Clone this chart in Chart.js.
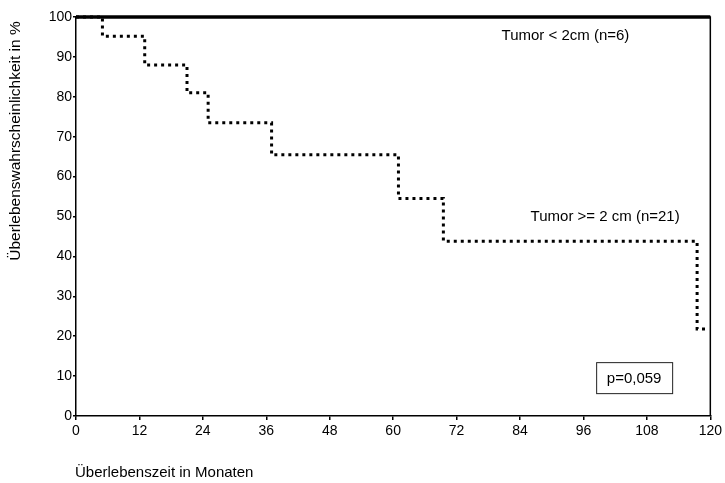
<!DOCTYPE html>
<html>
<head>
<meta charset="utf-8">
<script src="https://cdn.jsdelivr.net/npm/chart.js@4/dist/chart.umd.min.js"></script>
<style>
  html, body { margin: 0; padding: 0; background: #fff; }
  #wrap { width: 725px; height: 483px; }
</style>
</head>
<body>
<div id="wrap"><canvas id="myChart" width="725" height="483"></canvas></div>
<script>
// Kaplan-Meier Daten
var monateKlein = [0, 120];
var survivalKlein = [100, 100];

var monateGross = [0, 5, 13, 21, 25, 37, 61, 69.5, 117.5, 119];
var survivalGross = [100, 95.2, 88, 81, 73.5, 65.5, 54.5, 43.8, 21.8, 21.8];

var xTicks = [0, 12, 24, 36, 48, 60, 72, 84, 96, 108, 120];
var yTicks = [0, 10, 20, 30, 40, 50, 60, 70, 80, 90, 100];

var labelKlein = 'Tumor < 2cm (n=6)';
var labelGross = 'Tumor >= 2 cm (n=21)';
var pWert = 'p=0,059';
var xTitel = 'Überlebenszeit in Monaten';
var yTitel = 'Überlebenswahrscheinlichkeit in %';

function punkte(xs, ys) {
  var arr = [];
  for (var i = 0; i < xs.length; i++) {
    arr.push({ x: xs[i], y: ys[i] });
  }
  return arr;
}

var schrift = "'Liberation Sans', Arial, sans-serif";

var extras = {
  id: 'extras',
  afterDraw: function (chart) {
    var ctx = chart.ctx;
    var a = chart.chartArea;
    var xs = chart.scales.x;
    var ys = chart.scales.y;
    ctx.save();
    // rahmen oben / rechts
    ctx.strokeStyle = '#000';
    ctx.lineWidth = 1.5;
    ctx.beginPath();
    ctx.moveTo(a.left, a.top);
    ctx.lineTo(a.right, a.top);
    ctx.lineTo(a.right, a.bottom);
    ctx.stroke();

    ctx.fillStyle = '#000';
    ctx.font = '15px ' + schrift;
    ctx.textBaseline = 'middle';
    ctx.textAlign = 'left';
    ctx.fillText(labelKlein, xs.getPixelForValue(80.5), ys.getPixelForValue(95.2));
    ctx.fillText(labelGross, xs.getPixelForValue(86), ys.getPixelForValue(50));

    // p-Wert box
    var bx = xs.getPixelForValue(98.4), by = ys.getPixelForValue(13.5);
    var bw = 76, bh = 31;
    ctx.lineWidth = 1;
    ctx.strokeStyle = '#222';
    ctx.strokeRect(bx + 0.5, by + 0.5, bw, bh);
    ctx.textAlign = 'center';
    ctx.fillText(pWert, bx + bw / 2, by + bh / 2 + 1);

    // achsentitel
    ctx.textAlign = 'left';
    ctx.font = '15px ' + schrift;
    ctx.fillText(xTitel, 75, 473);

    ctx.translate(16, 141);
    ctx.rotate(-Math.PI / 2);
    ctx.textAlign = 'center';
    ctx.font = '15.5px ' + schrift;
    ctx.fillText(yTitel, 0, 0);
    ctx.restore();
  }
};

var ctx = document.getElementById('myChart').getContext('2d');
var myChart = new Chart(ctx, {
  type: 'line',
  data: {
    datasets: [
      {
        label: labelKlein,
        data: punkte(monateKlein, survivalKlein),
        borderColor: '#000',
        borderWidth: 3.5,
        pointRadius: 0,
        fill: false,
        clip: 6
      },
      {
        label: labelGross,
        data: punkte(monateGross, survivalGross),
        borderColor: '#000',
        borderWidth: 3,
        borderDash: [3, 4],
        borderCapStyle: 'butt',
        stepped: 'before',
        pointRadius: 0,
        fill: false,
        clip: 6
      }
    ]
  },
  plugins: [extras],
  options: {
    responsive: false,
    animation: false,
    layout: { padding: { left: 0, right: 11, top: 17, bottom: 0 } },
    plugins: {
      legend: { display: false },
      tooltip: { enabled: false }
    },
    scales: {
      x: {
        type: 'linear',
        min: 0,
        max: 120,
        afterBuildTicks: function (s) { s.ticks = xTicks.map(function (v) { return { value: v }; }); },
        afterFit: function (s) { s.height = 67; },
        border: { display: true, color: '#000', width: 1.5 },
        grid: { display: true, drawOnChartArea: false, drawTicks: true, tickLength: 4, color: '#000', lineWidth: 1.5 },
        ticks: { color: '#000', padding: 3, maxRotation: 0, font: { family: schrift, size: 14 } }
      },
      y: {
        type: 'linear',
        min: 0,
        max: 100,
        afterBuildTicks: function (s) { s.ticks = yTicks.map(function (v) { return { value: v }; }); },
        afterFit: function (s) { s.width = 76; },
        border: { display: true, color: '#000', width: 1.5 },
        grid: { display: true, drawOnChartArea: false, drawTicks: true, tickLength: 3, color: '#000', lineWidth: 1.5 },
        ticks: { color: '#000', padding: 1, font: { family: schrift, size: 14 } }
      }
    }
  }
});
</script>
</body>
</html>
